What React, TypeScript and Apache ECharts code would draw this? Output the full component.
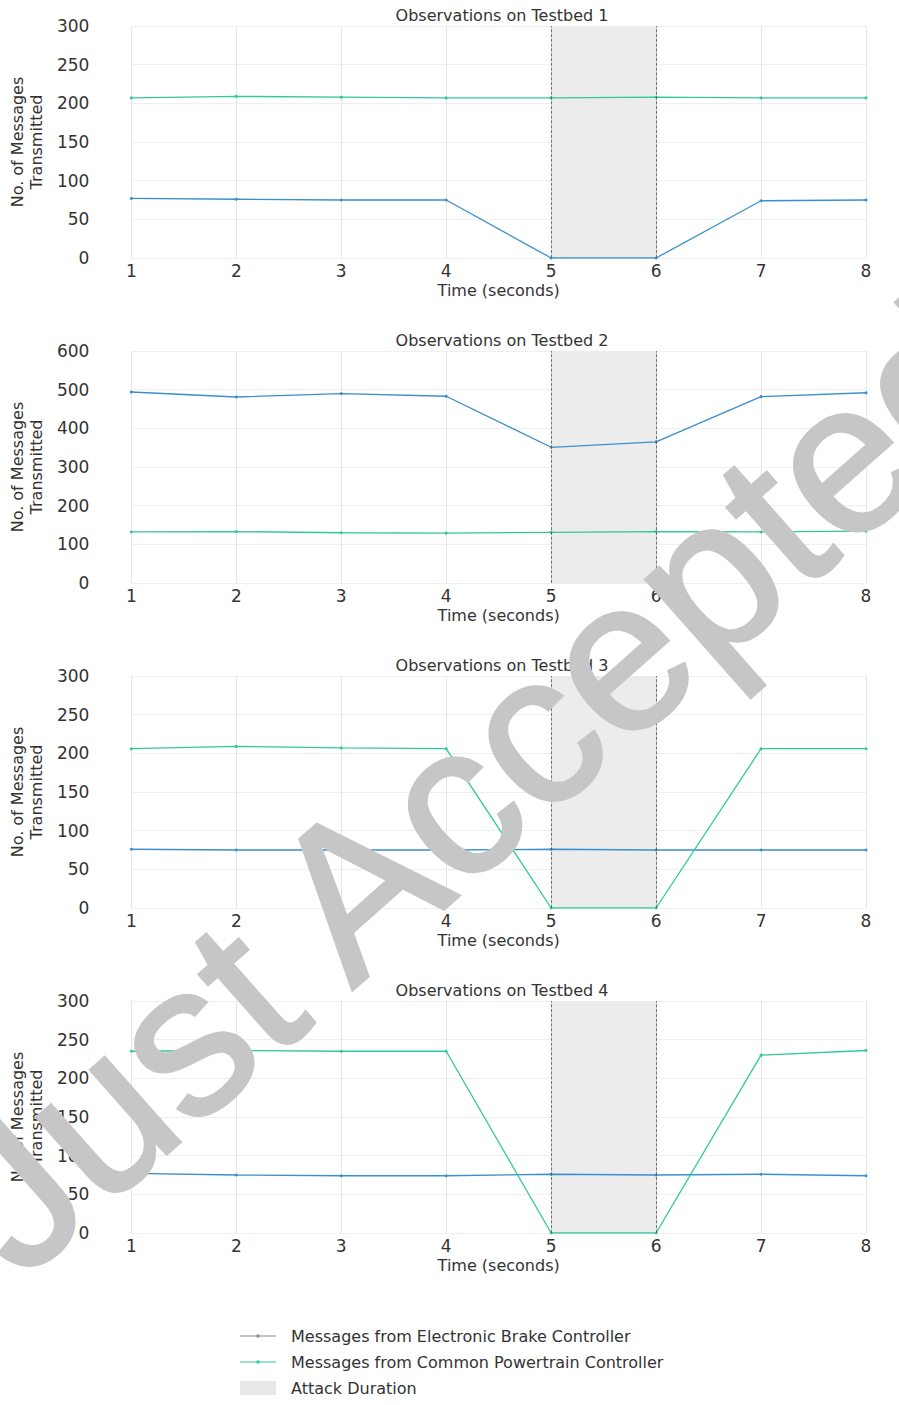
import React, { useEffect, useRef } from 'react';
import * as echarts from 'echarts';

const timeSeconds = [1, 2, 3, 4, 5, 6, 7, 8];
const testbedTitles = [
  'Observations on Testbed 1',
  'Observations on Testbed 2',
  'Observations on Testbed 3',
  'Observations on Testbed 4',
];
const brake1 = [77, 76, 75, 75, 0, 0, 74, 75];
const power1 = [207, 209, 208, 207, 207, 208, 207, 207];
const brake2 = [494, 481, 490, 483, 351, 365, 482, 492];
const power2 = [132, 133, 130, 129, 131, 133, 132, 134];
const brake3 = [76, 75, 75, 75, 76, 75, 75, 75];
const power3 = [206, 209, 207, 206, 0, 0, 206, 206];
const brake4 = [77, 75, 74, 74, 76, 75, 76, 74];
const power4 = [235, 236, 235, 235, 0, 0, 230, 236];
const yMax = [300, 600, 300, 300];
const yStep = [50, 100, 50, 50];
const attackWindow = [5, 6];

const brakeName = 'Messages from Electronic Brake Controller';
const powerName = 'Messages from Common Powertrain Controller';
const attackName = 'Attack Duration';

const BLUE = '#3a8fcc';
const GREEN = '#33c79c';
const FONT = 'DejaVu Sans';
const LINE_ICON = 'path://M0,6.4 L36,6.4 L36,7.6 L0,7.6 Z M16.6,5.4 L19.4,5.4 L19.4,8.6 L16.6,8.6 Z';

export default function App() {
  const ref = useRef<HTMLDivElement>(null);

  useEffect(() => {
    document.body.style.margin = '0';
    if (!ref.current) return;
    const chart = echarts.init(ref.current, null, { renderer: 'svg' });

    const brakes = [brake1, brake2, brake3, brake4];
    const powers = [power1, power2, power3, power4];
    const step = 325;
    const grids: any[] = [];
    const xAxes: any[] = [];
    const yAxes: any[] = [];
    const titles: any[] = [];
    const series: any[] = [];

    for (let i = 0; i < 4; i++) {
      grids.push({ left: 129, width: 737, top: 26 + step * i, height: 232 });
      titles.push({
        text: testbedTitles[i],
        left: 497,
        textAlign: 'center',
        top: 2 + step * i,
        textStyle: { fontFamily: FONT, fontSize: 16, fontWeight: 'normal', color: '#333' },
      });
      xAxes.push({
        type: 'value',
        gridIndex: i,
        min: 1,
        max: 8,
        interval: 1,
        name: 'Time (seconds)',
        nameLocation: 'middle',
        nameGap: 24,
        nameTextStyle: { fontFamily: FONT, fontSize: 16, color: '#333' },
        axisLine: { show: false },
        axisTick: { show: false },
        axisLabel: { fontFamily: FONT, fontSize: 17, color: '#333', margin: 4 },
        splitLine: { show: true, lineStyle: { color: '#e6e6e6', width: 1 } },
      });
      yAxes.push({
        type: 'value',
        gridIndex: i,
        min: 0,
        max: yMax[i],
        interval: yStep[i],
        name: 'No. of Messages\nTransmitted',
        nameLocation: 'middle',
        nameRotate: 90,
        nameGap: 78,
        nameTextStyle: { fontFamily: FONT, fontSize: 16, color: '#333', lineHeight: 19 },
        axisLine: { show: false },
        axisTick: { show: false },
        axisLabel: { fontFamily: FONT, fontSize: 17, color: '#333', margin: 42 },
        splitLine: { show: true, lineStyle: { color: '#efefef', width: 1 } },
      });
      series.push({
        type: 'line',
        name: attackName,
        xAxisIndex: i,
        yAxisIndex: i,
        data: [],
        itemStyle: { color: '#e6e6e6' },
        silent: true,
      });
      series.push({
        type: 'line',
        name: brakeName,
        xAxisIndex: i,
        yAxisIndex: i,
        data: timeSeconds.map((t, j) => [t, brakes[i][j]]),
        symbol: 'circle',
        symbolSize: 3,
        lineStyle: { color: BLUE, width: 1.3 },
        itemStyle: { color: BLUE },
        z: 3,
        markArea: {
          silent: true,
          itemStyle: { color: '#ececec' },
          data: [[{ xAxis: attackWindow[0] }, { xAxis: attackWindow[1] }]],
        },
        markLine: {
          silent: true,
          symbol: 'none',
          label: { show: false },
          lineStyle: { color: '#555', type: 'dashed', width: 0.8 },
          data: [{ xAxis: attackWindow[0] }, { xAxis: attackWindow[1] }],
        },
      });
      series.push({
        type: 'line',
        name: powerName,
        xAxisIndex: i,
        yAxisIndex: i,
        data: timeSeconds.map((t, j) => [t, powers[i][j]]),
        symbol: 'circle',
        symbolSize: 3,
        lineStyle: { color: GREEN, width: 1.3 },
        itemStyle: { color: GREEN },
        z: 3,
      });
    }

    chart.setOption({
      animation: false,
      backgroundColor: '#fff',
      title: titles,
      grid: grids,
      xAxis: xAxes,
      yAxis: yAxes,
      series,
      legend: {
        orient: 'vertical',
        left: 240,
        top: 1326,
        padding: 0,
        itemWidth: 36,
        itemHeight: 14,
        itemGap: 6,
        selectedMode: false,
        textStyle: { fontFamily: FONT, fontSize: 16, color: '#333', lineHeight: 20, padding: [0, 0, 0, 10] },
        data: [
          { name: brakeName, icon: LINE_ICON, itemStyle: { color: '#8a8a8a' } },
          { name: powerName, icon: LINE_ICON, itemStyle: { color: GREEN } },
          { name: attackName, icon: 'rect', itemStyle: { color: '#e8e8e8' } },
        ],
      },
      graphic: [
        {
          type: 'text',
          x: 473,
          y: 784,
          rotation: 0.724,
          z: 100,
          silent: true,
          style: {
            text: 'Just Accepted',
            fontSize: 215,
            fontWeight: 'normal',
            fontFamily: 'Liberation Sans',
            fill: '#c6c6c6',
            stroke: '#c6c6c6',
            lineWidth: 3,
            align: 'center',
            verticalAlign: 'middle',
          },
        },
      ],
    });

    return () => chart.dispose();
  }, []);

  return <div ref={ref} style={{ width: 899, height: 1405 }} />;
}
